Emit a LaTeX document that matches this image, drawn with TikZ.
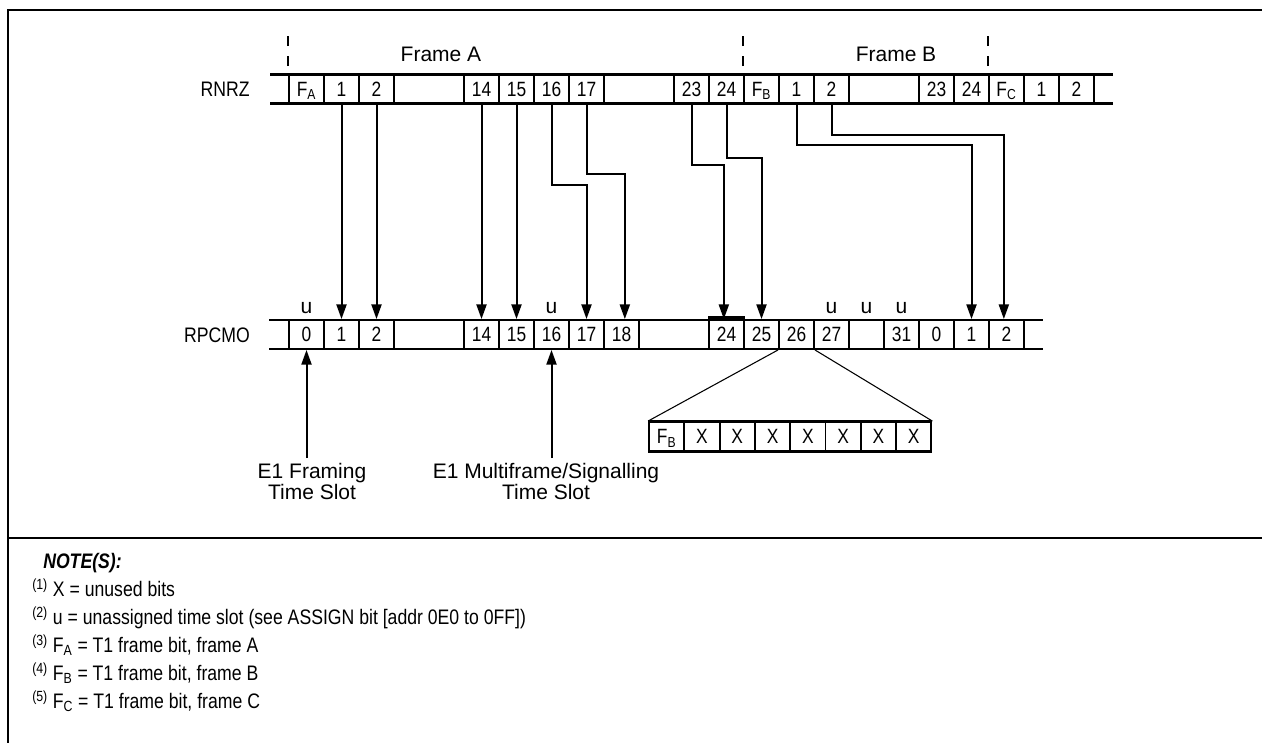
\documentclass[tikz,border=0pt]{standalone}
\usepackage{fontspec}
\setmainfont{Liberation Sans}
\newfontfamily\narrowfont[FakeStretch=0.84]{Liberation Sans}
\usepackage{tikz}
\usetikzlibrary{arrows.meta}
\tikzset{slot/.style={draw, line width=1.4pt, minimum width=26.25pt, minimum height=21.75pt, inner sep=0pt, text height=11.1pt, text depth=0pt, font=\narrowfont\fontsize{15.5}{16}\selectfont}}
\tikzset{xslot/.style={slot, minimum width=26.5pt}}
\tikzset{rowline/.style={line width=2.2pt}}
\tikzset{conn/.style={line width=1.5pt, -{Triangle[length=11pt,width=7.5pt]}}}
\tikzset{framedash/.style={line width=1.5pt, dash pattern=on 7.5pt off 7.5pt}}
\tikzset{lbl/.style={font=\fontsize{15.75}{13.5}\selectfont, inner sep=0pt}}
\tikzset{rowlbl/.style={font=\narrowfont\fontsize{15.75}{16}\selectfont, inner sep=0pt, anchor=base east}}
\tikzset{note/.style={font=\narrowfont\fontsize{15.75}{16}\selectfont, anchor=base west, inner sep=0pt}}

\begin{document}
\begin{tikzpicture}[x=0.75pt, y=-0.75pt]
\useasboundingbox (0,0) rectangle (1262,743);
% outer frame
 \draw[line width=2pt] (1262,10) -- (8,10) -- (8,743);
 \draw[line width=2pt] (8,538) -- (1262,538);
% RNRZ
 \node[rowlbl] (rnrz) at (250,96.5) {RNRZ};
 \draw[rowline] (270,74.5) -- (1113,74.5);
 \draw[rowline] (270,103.5) -- (1113,103.5);
 \node[slot] (nFA) at (306.5,89) {F\textsubscript{A}};
 \node[slot] (n1) at (341.5,89) {1};
 \node[slot] (n2) at (376.5,89) {2};
 \node[slot] (n14) at (481.5,89) {14};
 \node[slot] (n15) at (516.5,89) {15};
 \node[slot] (n16) at (551.5,89) {16};
 \node[slot] (n17) at (586.5,89) {17};
 \node[slot] (n23) at (691.5,89) {23};
 \node[slot] (n24) at (726.5,89) {24};
 \node[slot] (nFB) at (761.5,89) {F\textsubscript{B}};
 \node[slot] (nb1) at (796.5,89) {1};
 \node[slot] (nb2) at (831.5,89) {2};
 \node[slot] (nb23) at (936.5,89) {23};
 \node[slot] (nb24) at (971.5,89) {24};
 \node[slot] (nFC) at (1006.5,89) {F\textsubscript{C}};
 \node[slot] (nc1) at (1041.5,89) {1};
 \node[slot] (nc2) at (1076.5,89) {2};
% frame markers
 \draw[framedash] (nFA.north west) ++(0,-7.5) -- ++(0,-30);
 \draw[framedash] (nFB.north west) ++(0,-7.5) -- ++(0,-30);
 \draw[framedash] (nFC.north west) ++(0,-7.5) -- ++(0,-30);
 \node[lbl, anchor=base] (fra) at (441,61) {Frame A};
 \node[lbl, anchor=base] (frb) at (896,61) {Frame B};
% RPCMO
 \node[rowlbl] (rpcmo) at (250,342) {RPCMO};
 \draw[rowline] (269,320) -- (1043,320);
 \draw[rowline] (269,349) -- (1043,349);
 \node[slot] (p0) at (306.5,334.5) {0};
 \node[slot] (p1) at (341.5,334.5) {1};
 \node[slot] (p2) at (376.5,334.5) {2};
 \node[slot] (p14) at (481.5,334.5) {14};
 \node[slot] (p15) at (516.5,334.5) {15};
 \node[slot] (p16) at (551.5,334.5) {16};
 \node[slot] (p17) at (586.5,334.5) {17};
 \node[slot] (p18) at (621.5,334.5) {18};
 \node[slot] (p24) at (726.5,334.5) {24};
 \node[slot] (p25) at (761.5,334.5) {25};
 \node[slot] (p26) at (796.5,334.5) {26};
 \node[slot] (p27) at (831.5,334.5) {27};
 \node[slot] (p31) at (901.5,334.5) {31};
 \node[slot] (q0) at (936.5,334.5) {0};
 \node[slot] (q1) at (971.5,334.5) {1};
 \node[slot] (q2) at (1006.5,334.5) {2};
 \draw[line width=2.4pt] ([yshift=1.1pt]p24.north west) -- ([yshift=1.1pt]p24.north east);
% unassigned slots
 \node[lbl, anchor=base] (u0) at (306.5,313) {u};
 \node[lbl, anchor=base] (u16) at (551.5,313) {u};
 \node[lbl, anchor=base] (u27) at (831.5,313) {u};
 \node[lbl, anchor=base] (u28) at (866.5,313) {u};
 \node[lbl, anchor=base] (u31) at (901.5,313) {u};
% mapping
 \draw[conn] (n1.south) -- (p1.north);
 \draw[conn] (n2.south) -- (p2.north);
 \draw[conn] (n14.south) -- (p14.north);
 \draw[conn] (n15.south) -- (p15.north);
 \draw[conn] (n16.south) -- ++(0,80.5) -| (p17.north);
 \draw[conn] (n17.south) -- ++(0,69.5) -| ([xshift=2.5pt]p18.north);
 \draw[conn] (n23.south) -- ++(0,60.5) -| ([xshift=-2pt]p24.north);
 \draw[conn] (n24.south) -- ++(0,53.5) -| (p25.north);
 \draw[conn] (nb1.south) -- ++(0,40.5) -| (q1.north);
 \draw[conn] (nb2.south) -- ++(0,30.5) -| ([xshift=-2pt]q2.north);
% E1 time slots
 \node[lbl, align=center, anchor=north] (efr) at (312,463) {E1 Framing\\Time Slot};
 \node[lbl, align=center, anchor=north] (emf) at (546,463) {E1 Multiframe/Signalling\\Time Slot};
 \draw[conn] (p0.south |- efr.north) ++(0,-5) -- (p0.south);
 \draw[conn] (p16.south |- emf.north) ++(0,-5) -- (p16.south);
% bits of slot 26
 \node[xslot] (bFB) at (666.65,436.5) {F\textsubscript{B}};
 \node[xslot] (bx1) at (701.95,436.5) {X};
 \node[xslot] (bx2) at (737.25,436.5) {X};
 \node[xslot] (bx3) at (772.55,436.5) {X};
 \node[xslot] (bx4) at (807.85,436.5) {X};
 \node[xslot] (bx5) at (843.15,436.5) {X};
 \node[xslot] (bx6) at (878.45,436.5) {X};
 \node[xslot] (bx7) at (913.75,436.5) {X};
 \draw[rowline] (bFB.north west) -- (bx7.north east);
 \draw[rowline] (bFB.south west) -- (bx7.south east);
 \draw[line width=0.8pt] (p26.south west) -- (bFB.north west);
 \draw[line width=0.8pt] (p26.south east) -- (bx7.north east);
% notes
 \node[note] (nt0) at (43,568) {\bfseries\itshape NOTE(S):};
 \node[note] (nt1) at (32,596) {\textsuperscript{(1)} X = unused bits};
 \node[note] (nt2) at (32,624) {\textsuperscript{(2)} u = unassigned time slot (see ASSIGN bit [addr 0E0 to 0FF])};
 \node[note] (nt3) at (32,652) {\textsuperscript{(3)} F\textsubscript{A} = T1 frame bit, frame A};
 \node[note] (nt4) at (32,680) {\textsuperscript{(4)} F\textsubscript{B} = T1 frame bit, frame B};
 \node[note] (nt5) at (32,708) {\textsuperscript{(5)} F\textsubscript{C} = T1 frame bit, frame C};
\end{tikzpicture}
\end{document}
